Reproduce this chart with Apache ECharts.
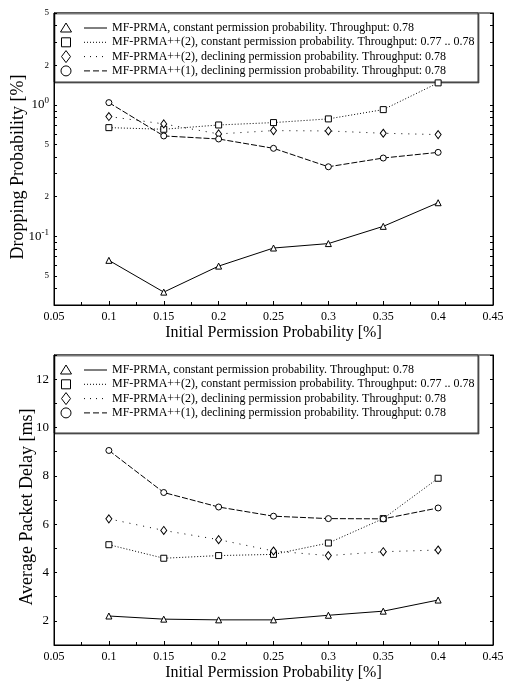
<!DOCTYPE html>
<html>
<head>
<meta charset="utf-8">
<script src="https://cdn.jsdelivr.net/npm/echarts@6/dist/echarts.min.js"></script>
<style>
    html, body { margin: 0; padding: 0; background: #fff; }
    #chart { width: 505px; height: 682px; }
</style>
</head>
<body>
<div id="chart"></div>
<script>
const permProb = [0.1, 0.15, 0.2, 0.25, 0.3, 0.35, 0.4]

// dropping probability [%]
const dropPrma = [0.0656, 0.0376, 0.0593, 0.0814, 0.088, 0.119, 0.18]
const dropPlus2Const = [0.671, 0.652, 0.703, 0.733, 0.782, 0.92, 1.47]
const dropPlus2Decl = [0.815, 0.716, 0.601, 0.637, 0.633, 0.608, 0.594]
const dropPlus1Decl = [1.04, 0.58, 0.55, 0.467, 0.338, 0.394, 0.435]

// average packet delay [ms]
const delayPrma = [2.2, 2.07, 2.04, 2.04, 2.23, 2.4, 2.86]
const delayPlus2Const = [5.15, 4.59, 4.7, 4.75, 5.22, 6.23, 7.9]
const delayPlus2Decl = [6.22, 5.74, 5.36, 4.89, 4.7, 4.86, 4.93]
const delayPlus1Decl = [9.05, 7.31, 6.71, 6.33, 6.23, 6.22, 6.67]

const legendNames = [
    'MF-PRMA, constant permission probability. Throughput: 0.78',
    'MF-PRMA++(2), constant permission probability. Throughput: 0.77 .. 0.78',
    'MF-PRMA++(2), declining permission probability. Throughput: 0.78',
    'MF-PRMA++(1), declining permission probability. Throughput: 0.78'
]

const logLabelValues = [0.05, 0.1, 0.2, 0.5, 1, 2, 5]
const logTickValues = [0.03, 0.04, 0.05, 0.06, 0.07, 0.08, 0.09,
    0.1, 0.2, 0.3, 0.4, 0.5, 0.6, 0.7, 0.8, 0.9, 1, 2, 3, 4, 5]

const font = 'Liberation Serif'
const styles = [
    {symbol: 'triangle', size: 6, dash: 'solid', legendDash: null},
    {symbol: 'rect', size: 6, dash: [1, 2], legendDash: [1, 2]},
    {symbol: 'diamond', size: [6, 8], dash: [1, 6], legendDash: [1, 5]},
    {symbol: 'circle', size: 6, dash: [6, 2], legendDash: [6, 3]}
]

const pairs = (ys) => permProb.map((x, i) => [x, ys[i]])

const makeSeries = (ys, k, idx) => ({
    name: legendNames[k],
    type: 'line',
    xAxisIndex: idx,
    yAxisIndex: idx * 2,
    data: pairs(ys),
    symbol: styles[k].symbol,
    symbolSize: styles[k].size,
    showSymbol: true,
    silent: true,
    lineStyle: {color: '#000', width: 1, type: styles[k].dash},
    itemStyle: {color: '#fff', borderColor: '#000', borderWidth: 1}
})

const xAxisBase = (idx) => ({
    type: 'value',
    gridIndex: idx,
    min: 0.05,
    max: 0.45,
    interval: 0.05,
    name: 'Initial Permission Probability [%]',
    nameLocation: 'middle',
    nameGap: 20,
    nameMoveOverlap: false,
    nameTextStyle: {fontFamily: font, fontSize: 16, color: '#000'},
    axisLine: {lineStyle: {color: '#000'}},
    axisTick: {inside: true, length: 4, lineStyle: {color: '#000'}},
    minorTick: {show: true, splitNumber: 2, length: 3, lineStyle: {color: '#000'}},
    splitLine: {show: false},
    axisLabel: {
        fontFamily: font, fontSize: 12, color: '#000', margin: 6,
        formatter: v => String(Number(v.toFixed(2)))
    }
})

const logLabel = (v) => {
    const e = Math.floor(Math.log10(v) + 1e-9)
    const m = Math.round(v / Math.pow(10, e))
    if (m === 1) return '10{s|' + e + '}'
    return '{m|' + m + '}'
}

const legendGraphic = (top, height) => {
    const children = [{
        type: 'rect',
        shape: {x: 54, y: top, width: 424, height: height},
        style: {fill: '#fff', stroke: '#333', lineWidth: 1,
            shadowColor: 'rgba(0,0,0,0.5)', shadowOffsetX: 1, shadowOffsetY: 1}
    }]
    const rowGap = 14.3
    for (let k = 0; k < 4; k++) {
        const cy = top + 15 + k * rowGap
        const cx = 66
        const mark = {style: {fill: 'none', stroke: '#000', lineWidth: 1}}
        if (k === 0) {
            mark.type = 'polygon'
            mark.shape = {points: [[cx, cy - 5], [cx + 5.5, cy + 4], [cx - 5.5, cy + 4]]}
        } else if (k === 1) {
            mark.type = 'rect'
            mark.shape = {x: cx - 4.5, y: cy - 4.5, width: 9, height: 9}
        } else if (k === 2) {
            mark.type = 'polygon'
            mark.shape = {points: [[cx, cy - 6], [cx + 4.5, cy], [cx, cy + 6], [cx - 4.5, cy]]}
        } else {
            mark.type = 'circle'
            mark.shape = {cx: cx, cy: cy, r: 5}
        }
        children.push(mark)
        children.push({
            type: 'line',
            shape: {x1: 84, y1: cy, x2: 107, y2: cy},
            style: {stroke: '#000', lineWidth: 1, lineDash: styles[k].legendDash}
        })
        children.push({
            type: 'text',
            x: 112,
            y: cy,
            style: {text: legendNames[k], font: '12px "' + font + '"',
                fill: '#000', verticalAlign: 'middle'}
        })
    }
    return {type: 'group', z: 100, children: children}
}

const chart = echarts.init(document.getElementById('chart'))

const option = {
    backgroundColor: '#fff',
    animation: false,
    grid: [
        {left: 54, right: 12, top: 13, height: 292, outerBoundsMode: 'none',
            show: true, borderColor: '#000', borderWidth: 1},
        {left: 54, right: 12, top: 355, height: 290, outerBoundsMode: 'none',
            show: true, borderColor: '#000', borderWidth: 1}
    ],
    xAxis: [xAxisBase(0), xAxisBase(1)],
    yAxis: [
        {
            type: 'log',
            gridIndex: 0,
            min: 0.03,
            max: 5,
            name: 'Dropping Probability [%]',
            nameLocation: 'middle',
            nameGap: 27,
            nameMoveOverlap: false,
            nameTextStyle: {fontFamily: font, fontSize: 18, color: '#000', padding: [0, 16, 0, 0]},
            axisLine: {lineStyle: {color: '#000'}},
            axisTick: {inside: true, length: 3, customValues: logTickValues, lineStyle: {color: '#000'}},
            splitLine: {show: false},
            axisLabel: {
                customValues: logLabelValues,
                formatter: logLabel,
                fontFamily: font, fontSize: 13, color: '#000', margin: 5,
                rich: {
                    s: {fontFamily: font, fontSize: 9, color: '#000', verticalAlign: 'top', padding: [0, 0, 8, 0]},
                    m: {fontFamily: font, fontSize: 9, color: '#000'}
                }
            }
        },
        {
            type: 'log',
            gridIndex: 0,
            position: 'right',
            min: 0.03,
            max: 5,
            axisLine: {lineStyle: {color: '#000'}},
            axisTick: {inside: true, length: 3, customValues: logTickValues, lineStyle: {color: '#000'}},
            splitLine: {show: false},
            axisLabel: {show: false}
        },
        {
            type: 'value',
            gridIndex: 1,
            min: 1,
            max: 13,
            interval: 1,
            name: 'Average Packet Delay [ms]',
            nameLocation: 'middle',
            nameGap: 18,
            nameMoveOverlap: false,
            nameTextStyle: {fontFamily: font, fontSize: 18, color: '#000', padding: [0, 14, 0, 0]},
            axisLine: {lineStyle: {color: '#000'}},
            axisTick: {inside: true, length: 3, lineStyle: {color: '#000'}},
            splitLine: {show: false},
            axisLabel: {
                fontFamily: font, fontSize: 13, color: '#000', margin: 5,
                formatter: v => (v % 2 === 0 ? String(v) : '')
            }
        },
        {
            type: 'value',
            gridIndex: 1,
            position: 'right',
            min: 1,
            max: 13,
            interval: 1,
            axisLine: {lineStyle: {color: '#000'}},
            axisTick: {inside: true, length: 3, lineStyle: {color: '#000'}},
            splitLine: {show: false},
            axisLabel: {show: false}
        }
    ],
    series: [
        makeSeries(dropPrma, 0, 0),
        makeSeries(dropPlus2Const, 1, 0),
        makeSeries(dropPlus2Decl, 2, 0),
        makeSeries(dropPlus1Decl, 3, 0),
        makeSeries(delayPrma, 0, 1),
        makeSeries(delayPlus2Const, 1, 1),
        makeSeries(delayPlus2Decl, 2, 1),
        makeSeries(delayPlus1Decl, 3, 1)
    ],
    graphic: [legendGraphic(13, 69), legendGraphic(355, 78)]
}

chart.setOption(option)
</script>
</body>
</html>
